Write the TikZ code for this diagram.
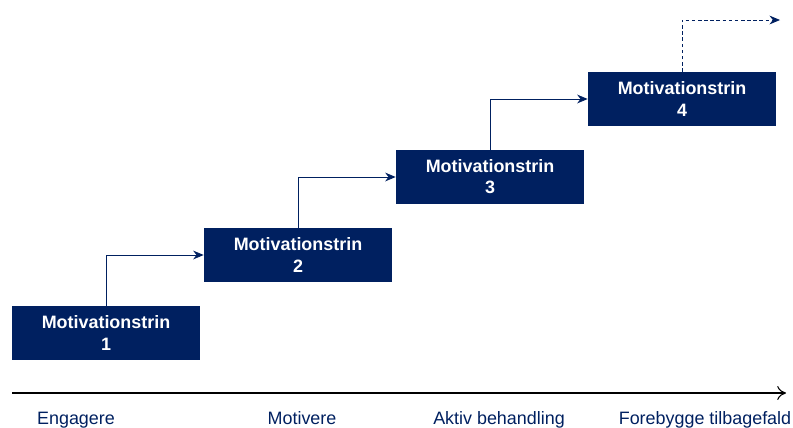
\documentclass[tikz,border=0pt]{standalone}
\usepackage{fontspec}
\setmainfont{Liberation Sans}
\usetikzlibrary{arrows.meta}
\definecolor{navy}{HTML}{002060}
\tikzset{
	stage/.style={fill=navy, text=white, font=\bfseries\fontsize{10.2}{12}\selectfont,
		minimum width=3.76cm, minimum height=1.08cm, inner sep=0pt, align=center},
	flow/.style={navy, line width=0.45pt, -{Stealth[length=6pt,width=5pt]}},
	phase/.style={text=navy, font=\fontsize{10.2}{12}\selectfont, anchor=base}
}
\begin{document}
\begin{tikzpicture}[x=0.02cm, y=-0.02cm]
	
	\useasboundingbox (0,0) rectangle (793,427);
	
	% Parameters
	\def\dx{192} % step to the right
	\def\dy{78}  % step upwards
	
	% -----------------------------
	% Stages
	% -----------------------------
	\foreach \i in {1,...,4} {
		\node[stage] (box\i) at ({106+(\i-1)*\dx}, {333-(\i-1)*\dy}) {Motivationstrin\\\i};
	}
	
	% Steps between stages
	\foreach \i/\j in {1/2,2/3,3/4} {
		\draw[flow] (box\i.north) |- (box\j.west);
	}
	
	% Next step (dashed)
	\coordinate (next) at (780,20);
	\draw[flow, dash pattern=on 2pt off 1.5pt] (box4.north) |- (next);
	
	% -----------------------------
	% Time axis
	% -----------------------------
	\coordinate (axisL) at (12,393);
	\coordinate (axisR) at (786,393);
	\draw[line width=0.6pt, -{To[length=5pt,width=8pt]}] (axisL) -- (axisR);
	
	\node[phase] (p1) at (76,424) {Engagere};
	\node[phase] (p2) at (302,424) {Motivere};
	\node[phase] (p3) at (499,424) {Aktiv behandling};
	\node[phase] (p4) at (705,424) {Forebygge tilbagefald};
	
\end{tikzpicture}
\end{document}
